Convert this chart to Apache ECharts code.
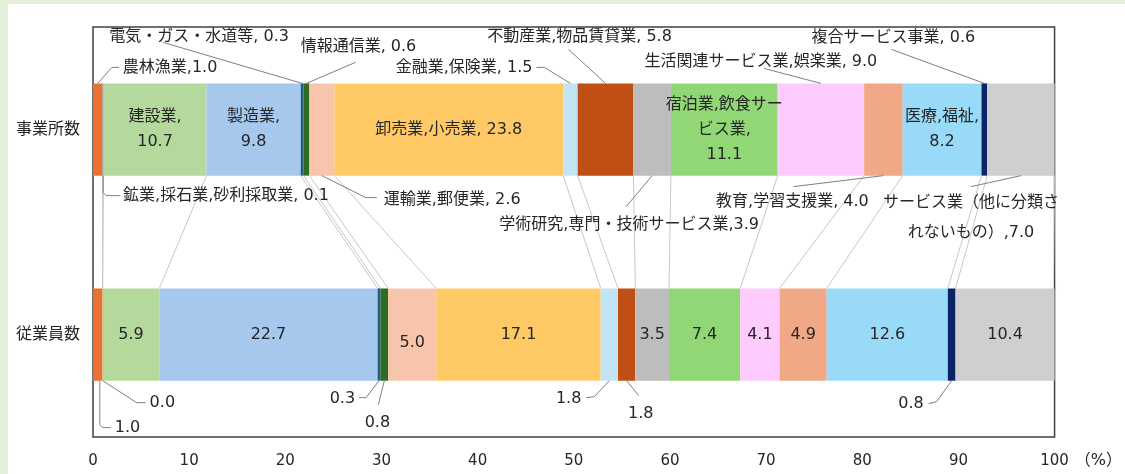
<!DOCTYPE html>
<html><head><meta charset="utf-8">
<script src="https://cdn.jsdelivr.net/npm/echarts@6/dist/echarts.min.js"></script>
<style>html,body{margin:0;padding:0;background:#fff}#c{width:1125px;height:474px}</style>
</head><body><div id="c"></div>
<script>
// ---------- data ----------
const categories = ['事業所数', '従業員数'];
const industries = ['農林漁業','鉱業,採石業,砂利採取業','建設業','製造業','電気・ガス・水道等','情報通信業','運輸業,郵便業','卸売業,小売業','金融業,保険業','不動産業,物品賃貸業','学術研究,専門・技術サービス業','宿泊業,飲食サービス業','生活関連サービス業,娯楽業','教育,学習支援業','医療,福祉','複合サービス事業','サービス業（他に分類されないもの）'];
const establishments = [1.0, 0.1, 10.7, 9.8, 0.3, 0.6, 2.6, 23.8, 1.5, 5.8, 3.9, 11.1, 9.0, 4.0, 8.2, 0.6, 7.0];
const employees      = [1.0, 0.0, 5.9, 22.7, 0.3, 0.8, 5.0, 17.1, 1.8, 1.8, 3.5, 7.4, 4.1, 4.9, 12.6, 0.8, 10.4];
const xMin = 0, xMax = 100, xStep = 10;
const xUnit = '（%）';

// ---------- styles ----------
const colors = ['#E97132','#4F9BD9','#B5D99C','#A5C8EC','#1B5E82','#2D6A22','#F6C5AB','#FFCA66','#C3E4F5','#C04F15','#BDBDBD','#92D776','#FDCBFD','#F1A886','#98DAF8','#0B2465','#CFCFCF'];
const FONT = "'DejaVu Sans','Noto Sans CJK JP',sans-serif";
const TXT = '#262626';
const FS = 16;
const BAR = 0.45;

// label layout (offsets in px relative to segment centre on bar edge)
const topLayout = [
 {place:'above', sep:',',  dx:25,  dy:-16, align:'left',  leader:[[0,0],[14,-16],[21,-16]]},
 {place:'below', sep:', ', dx:20,  dy:20,  align:'left',  leader:[[0,0],[0,17],[3,20],[17,20]]},
 {place:'inside', sep:',\n'},
 {place:'inside', sep:',\n'},
 {place:'above', sep:', ', dx:-103, dy:-47, align:'center', leader:[[0,0],[-139,-41]]},
 {place:'above', sep:', ', dx:52,  dy:-37, align:'center', leader:[[0,0],[49,-21]]},
 {place:'below', sep:', ', dx:62,  dy:24,  align:'left',  leader:[[0,0],[44,22],[55,22]]},
 {place:'inside', sep:', '},
 {place:'above', sep:', ', dx:-38, dy:-16, align:'right', leader:[[-34,-16],[-26,-16],[0,0]]},
 {place:'above', sep:', ', dx:-26, dy:-47, align:'center', leader:[[-37,-34],[0,0]]},
 {place:'below', sep:',',  dx:-23, dy:49,  align:'center', leader:[[0,0],[-26,31]]},
 {place:'inside', sep:',\n', wrap:8},
 {place:'above', sep:', ', dx:-60, dy:-22, align:'center', leader:[[-57,-15],[0,0]]},
 {place:'below', sep:', ', dx:-91, dy:26,  align:'center', leader:[[0,0],[-90,11]]},
 {place:'inside', sep:',\n'},
 {place:'above', sep:', ', dx:-91, dy:-46, align:'center', leader:[[-93,-34],[0,0]]},
 {place:'below', sep:',', wrap:11, dx:-50, dy:42, align:'center', lh:30, leader:[[0,0],[-50,11]]}
];
const bottomLayout = [
 {place:'below', dx:17, dy:47, align:'left', leader:[[2,0],[2,44],[5,47],[13,47]]},
 {place:'below', dx:47, dy:22, align:'left', leader:[[0,0],[34,22],[43,22]]},
 {place:'inside'},
 {place:'inside'},
 {place:'below', dx:-24, dy:18, align:'right', leader:[[-20,17],[-13,17],[0,0]]},
 {place:'below', dx:-7, dy:42, align:'center', leader:[[-6,24],[0,0]]},
 {place:'inside', oy:8},
 {place:'inside'},
 {place:'below', dx:-28, dy:18, align:'right', leader:[[-23,17],[-15,16],[0,0]]},
 {place:'below', dx:14, dy:33, align:'center', leader:[[12,15],[0,0]]},
 {place:'inside'},
 {place:'inside'},
 {place:'inside'},
 {place:'inside'},
 {place:'inside'},
 {place:'below', dx:-28, dy:23, align:'right', leader:[[-23,23],[-15,21],[0,0]]},
 {place:'inside'}
];

const rows = [establishments, employees];
const layouts = [topLayout, bottomLayout];

function labelText(row, i) {
  const v = rows[row][i].toFixed(1);
  if (row === 1) return v;
  const lay = topLayout[i];
  let n = industries[i];
  if (lay.wrap) n = n.slice(0, lay.wrap) + '\n' + n.slice(lay.wrap);
  return n + lay.sep + v;
}
function cum(arr, k) { let s = 0; for (let j = 0; j <= k; j++) s += arr[j]; return Math.round(s * 10) / 10; }

const series = industries.map((name, i) => ({
  type: 'bar', name, stack: 'all', barWidth: (BAR * 100) + '%',
  itemStyle: { color: colors[i] },
  emphasis: { disabled: true },
  data: [0, 1].map(row => {
    const lay = layouts[row][i];
    const item = { value: rows[row][i] };
    if (lay.place === 'inside') {
      item.label = { show: true, position: 'inside', formatter: () => labelText(row, i),
        color: TXT, fontSize: FS, fontFamily: FONT, lineHeight: 25, offset: [0, lay.oy || 0] };
    } else item.label = { show: false };
    return item;
  })
}));

// series (connector) lines between the two bars
series.push({
  type: 'custom', silent: true, z: 1,
  encode: { x: 0, y: 1 },
  data: industries.map((_, k) => [0, 0, k]),
  renderItem(params, api) {
    const k = api.value(2);
    const half = api.size([0, 1])[1] * BAR / 2;
    const p1 = api.coord([cum(establishments, k), 0]);
    const p2 = api.coord([cum(employees, k), 1]);
    return { type: 'line', shape: { x1: p1[0], y1: p1[1] + half, x2: p2[0], y2: p2[1] - half },
      style: { stroke: '#C8C8C8', lineWidth: 1 } };
  }
});

// outside labels with leader lines
const outside = [];
[0, 1].forEach(row => industries.forEach((_, i) => { if (layouts[row][i].place !== 'inside') outside.push([0, row, i]); }));
series.push({
  type: 'custom', silent: true, z: 5,
  encode: { x: 0, y: 1 },
  data: outside,
  renderItem(params, api) {
    const row = api.value(1), i = api.value(2);
    const vals = rows[row];
    const start = i > 0 ? cum(vals, i - 1) : 0;
    const c = api.coord([start + vals[i] / 2, row]);
    const half = api.size([0, 1])[1] * BAR / 2;
    const lay = layouts[row][i];
    const ax = c[0], ay = lay.place === 'above' ? c[1] - half : c[1] + half;
    return { type: 'group', children: [
      { type: 'polyline', shape: { points: lay.leader.map(p => [ax + p[0], ay + p[1]]) },
        style: { stroke: '#7F7F7F', lineWidth: 1, fill: null } },
      { type: 'text', style: { x: ax + lay.dx, y: ay + lay.dy, text: labelText(row, i),
        align: lay.align, verticalAlign: 'middle', fill: TXT, fontSize: FS, fontFamily: FONT,
        lineHeight: lay.lh || 25 } }
    ]};
  }
});

const chart = echarts.init(document.getElementById('c'), null, { renderer: 'canvas' });
chart.setOption({
  backgroundColor: '#ffffff',
  animation: false,
  textStyle: { fontFamily: FONT },
  graphic: [
    { type: 'rect', shape: { x: 0, y: 0, width: 8, height: 474 }, style: { fill: '#E4F0DA' }, silent: true },
    { type: 'rect', shape: { x: 0, y: 0, width: 1125, height: 4 }, style: { fill: '#E4F0DA' }, silent: true }
  ],
  grid: { left: 93, right: 63, top: 27, bottom: 37, show: true, borderColor: '#404040', borderWidth: 1.5, backgroundColor: '#fff' },
  xAxis: { type: 'value', min: xMin, max: xMax, interval: xStep,
    axisLine: { show: false }, axisTick: { show: false }, splitLine: { show: false },
    axisLabel: { fontSize: 15, color: TXT, margin: 17, fontFamily: FONT },
    name: xUnit, nameLocation: 'end', nameGap: 16,
    nameTextStyle: { fontSize: 16, color: TXT, verticalAlign: 'top', align: 'left', padding: [16, 0, 0, 0], fontFamily: FONT } },
  yAxis: { type: 'category', data: categories, inverse: true,
    axisLine: { show: false }, axisTick: { show: false }, splitLine: { show: false },
    axisLabel: { fontSize: 16, color: TXT, margin: 13, fontFamily: FONT } },
  series
});
</script></body></html>
